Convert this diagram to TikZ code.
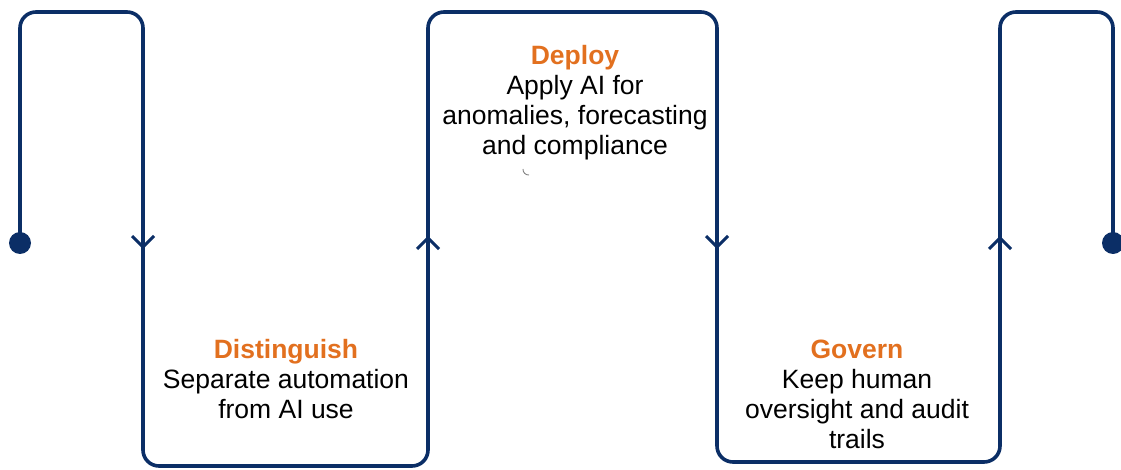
\documentclass[tikz,border=0pt]{standalone}
\usepackage{fontspec}
\setmainfont{Liberation Sans}
\usepackage{xcolor}
\definecolor{loopnavy}{HTML}{0B2E66}
\definecolor{steporange}{HTML}{E2701F}

\begin{document}
\begin{tikzpicture}[x=1pt,y=-1pt,
  point/.style={coordinate},
  stage/.style={align=center, text=black, font=\fontsize{26.5}{30}\selectfont},
  chevron/.style={draw=loopnavy, line width=3pt},
  every path/.style={line width=3.6pt}]
\useasboundingbox (0,0) rectangle (1121,470);
% turning points of the loop
\node[point] (s) at (20,243) {};
\node[point] (1) at (20,12) {};
\node[point] (2) at (143,12) {};
\node[point] (3) at (143,466) {};
\node[point] (4) at (428,466) {};
\node[point] (5) at (428,12) {};
\node[point] (6) at (717,12) {};
\node[point] (7) at (717,462) {};
\node[point] (8) at (1000,462) {};
\node[point] (9) at (1000,12) {};
\node[point] (10) at (1113,12) {};
\node[point] (e) at (1113,243) {};
% direction marks
\node[point] (d1) at (143,247) {};
\node[point] (u1) at (428,238) {};
\node[point] (d2) at (717,247) {};
\node[point] (u2) at (1000,238) {};
% labels
\node[stage] (distinguish) at (286,379) {{\color{steporange}\bfseries Distinguish}\\Separate automation\\from AI use};
\node[stage] (deploy) at (575,103) {{\color{steporange}\bfseries Deploy}\\Apply AI for\\anomalies, forecasting\\and compliance};
\node[stage] (govern) at (857,394) {{\color{steporange}\bfseries Govern}\\Keep human\\oversight and audit\\trails};
\draw[loopnavy, rounded corners=16pt] (s) -- (1) -- (2) -- (3) -- (4) -- (5) -- (6) -- (7) -- (8) -- (9) -- (10) -- (e);
\fill[loopnavy] (s) circle (11);
\fill[loopnavy] (e) circle (11);
\draw[chevron] ([shift={(-11,-11)}]d1) -- (d1) -- ([shift={(11,-11)}]d1);
\draw[chevron] ([shift={(-11,11)}]u1) -- (u1) -- ([shift={(11,11)}]u1);
\draw[chevron] ([shift={(-11,-11)}]d2) -- (d2) -- ([shift={(11,-11)}]d2);
\draw[chevron] ([shift={(-11,11)}]u2) -- (u2) -- ([shift={(11,11)}]u2);
\draw[gray, line width=0.9pt] (523,169) to[bend right=50] (529,175);
\end{tikzpicture}
\end{document}
